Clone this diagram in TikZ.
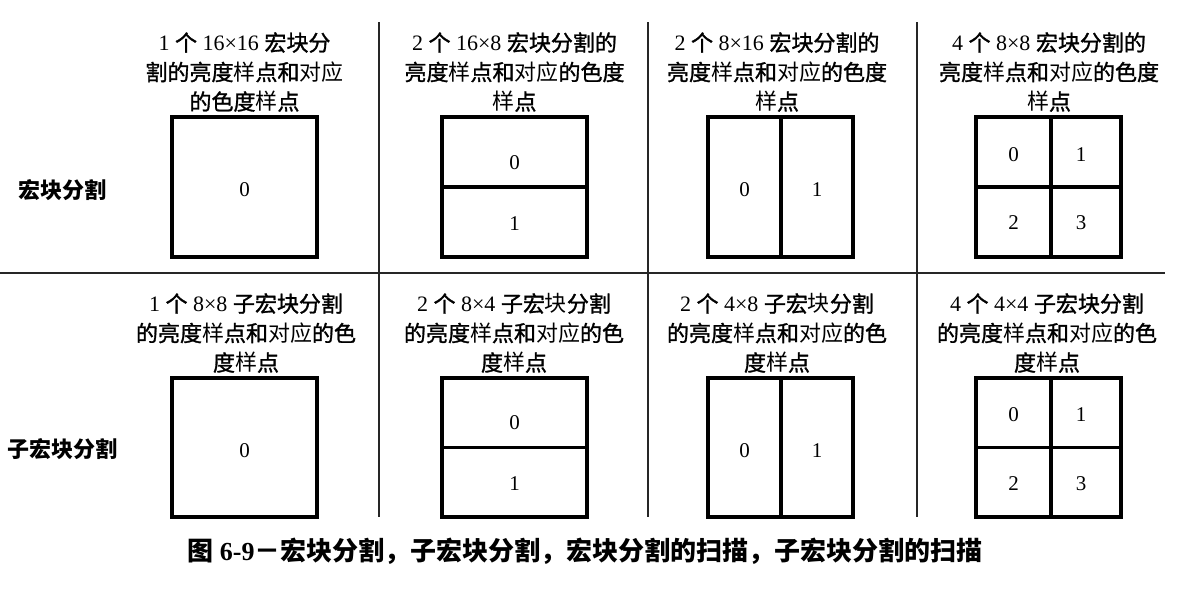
\documentclass[tikz,border=0pt]{standalone}
\usepackage{fontspec}
\setmainfont{Liberation Serif}
\newfontfamily\cjk{Noto Sans CJK SC}[FakeBold=1.3]
\newfontfamily\cjkl{Noto Sans CJK SC}
\newfontfamily\cjkb{Noto Sans CJK SC}[BoldFont=*, BoldFeatures={FakeBold=0}]
\newcommand\zh[1]{{\cjk #1}}
\newcommand\zl[1]{{\cjkl #1}}
\tikzset{
  cell/.style={draw, line width=3.6pt, inner sep=0pt},
  num/.style={inner sep=0pt, font=\fontsize{21}{21}\selectfont},
  head/.style={align=center, inner sep=0pt, font=\fontsize{22}{29.5}\selectfont},
  rowlab/.style={inner sep=0pt, font=\fontsize{22}{22}\selectfont\cjkl\bfseries},
  sep/.style={line width=1.6pt, black!85},
}
\begin{document}
\begin{tikzpicture}[x=1pt,y=-1pt]
\useasboundingbox (0,0) rectangle (1200,592);
% grid lines
\draw[sep] (379,22) -- (379,517);
\draw[sep] (648,22) -- (648,517);
\draw[sep] (917,22) -- (917,517);
\draw[sep] (0,273) -- (1165,273);
% row labels
\node[rowlab] (r1) at (62,190) {宏块分割};
\node[rowlab] (r2) at (63,449) {子宏块分割};
% headers top
\node[head] (h1) at (244.5,72) {1 \zh{个} 16×16 \zh{宏块分}\\\zh{割的亮度}\zl{样}\zh{点和}\zl{对应}\\\zh{的色度}\zl{样}\zh{点}};
\node[head] (h2) at (514.5,72) {2 \zh{个} 16×8 \zh{宏块分割的}\\\zh{亮度}\zl{样}\zh{点和}\zl{对应}\zh{的色度}\\\zl{样}\zh{点}};
\node[head] (h3) at (777,72) {2 \zh{个} 8×16 \zh{宏块分割的}\\\zh{亮度}\zl{样}\zh{点和}\zl{对应}\zh{的色度}\\\zl{样}\zh{点}};
\node[head] (h4) at (1049,72) {4 \zh{个} 8×8 \zh{宏块分割的}\\\zh{亮度}\zl{样}\zh{点和}\zl{对应}\zh{的色度}\\\zl{样}\zh{点}};
% headers bottom
\node[head] (g1) at (246,333) {1 \zh{个} 8×8 \zh{子宏块分割}\\\zh{的亮度}\zl{样}\zh{点和}\zl{对应}\zh{的色}\\\zh{度}\zl{样}\zh{点}};
\node[head] (g2) at (514,333) {2 \zh{个} 8×4 \zh{子宏}\zl{块}\zh{分割}\\\zh{的亮度}\zl{样}\zh{点和}\zl{对应}\zh{的色}\\\zh{度}\zl{样}\zh{点}};
\node[head] (g3) at (777,333) {2 \zh{个} 4×8 \zh{子宏}\zl{块}\zh{分割}\\\zh{的亮度}\zl{样}\zh{点和}\zl{对应}\zh{的色}\\\zh{度}\zl{样}\zh{点}};
\node[head] (g4) at (1047,333) {4 \zh{个} 4×4 \zh{子宏块分割}\\\zh{的亮度}\zl{样}\zh{点和}\zl{对应}\zh{的色}\\\zh{度}\zl{样}\zh{点}};
% top row boxes
\node[cell, minimum width=145, minimum height=140] (a0) at (244.5,187) {};
\node[cell, minimum width=145, minimum height=70] (b0) at (514.5,152) {};
\node[cell, minimum width=145, minimum height=70] (b1) at (514.5,222) {};
\node[cell, minimum width=73, minimum height=140] (c0) at (744.5,187) {};
\node[cell, minimum width=72, minimum height=140] (c1) at (817,187) {};
\node[cell, minimum width=75, minimum height=70] (d0) at (1013.5,152) {};
\node[cell, minimum width=70, minimum height=70] (d1) at (1086,152) {};
\node[cell, minimum width=75, minimum height=70] (d2) at (1013.5,222) {};
\node[cell, minimum width=70, minimum height=70] (d3) at (1086,222) {};
\node[num] (na0) at ([yshift=-3pt]a0.center) {0};
\node[num] (nb0) at ([yshift=-11pt]b0.center) {0};
\node[num] (nb1) at ([yshift=-2pt]b1.center) {1};
\node[num] (nc0) at ([yshift=-3pt]c0.center) {0};
\node[num] (nc1) at ([yshift=-3pt]c1.center) {1};
\node[num] (nd0) at ([yshift=-3pt]d0.center) {0};
\node[num] (nd1) at ([xshift=-5pt,yshift=-3pt]d1.center) {1};
\node[num] (nd2) at ([yshift=-1pt]d2.center) {2};
\node[num] (nd3) at ([xshift=-5pt,yshift=-1pt]d3.center) {3};
% bottom row boxes
\node[cell, minimum width=145, minimum height=139] (e0) at (244.5,447.5) {};
\node[cell, minimum width=145, minimum height=69.5] (f0) at (514.5,412.75) {};
\node[cell, minimum width=145, minimum height=69.5] (f1) at (514.5,482.25) {};
\node[cell, minimum width=73, minimum height=139] (k0) at (744.5,447.5) {};
\node[cell, minimum width=72, minimum height=139] (k1) at (817,447.5) {};
\node[cell, minimum width=75, minimum height=69.5] (m0) at (1013.5,412.75) {};
\node[cell, minimum width=70, minimum height=69.5] (m1) at (1086,412.75) {};
\node[cell, minimum width=75, minimum height=69.5] (m2) at (1013.5,482.25) {};
\node[cell, minimum width=70, minimum height=69.5] (m3) at (1086,482.25) {};
\node[num] (ne0) at ([yshift=-3pt]e0.center) {0};
\node[num] (nf0) at ([yshift=-10pt]f0.center) {0};
\node[num] (nf1) at ([yshift=-1pt]f1.center) {1};
\node[num] (nk0) at ([yshift=-3pt]k0.center) {0};
\node[num] (nk1) at ([yshift=-3pt]k1.center) {1};
\node[num] (nm0) at ([yshift=-2pt]m0.center) {0};
\node[num] (nm1) at ([xshift=-5pt,yshift=-2pt]m1.center) {1};
\node[num] (nm2) at ([yshift=-1pt]m2.center) {2};
\node[num] (nm3) at ([xshift=-5pt,yshift=-1pt]m3.center) {3};
% caption
\node[inner sep=0pt, font=\fontsize{26}{26}\selectfont\bfseries] (cap) at (585,551)
  {{\cjkl\bfseries 图} 6-9{\cjkl\bfseries －宏块分割，子宏块分割，宏块分割的扫描，子宏块分割的扫描}};
\end{tikzpicture}
\end{document}
